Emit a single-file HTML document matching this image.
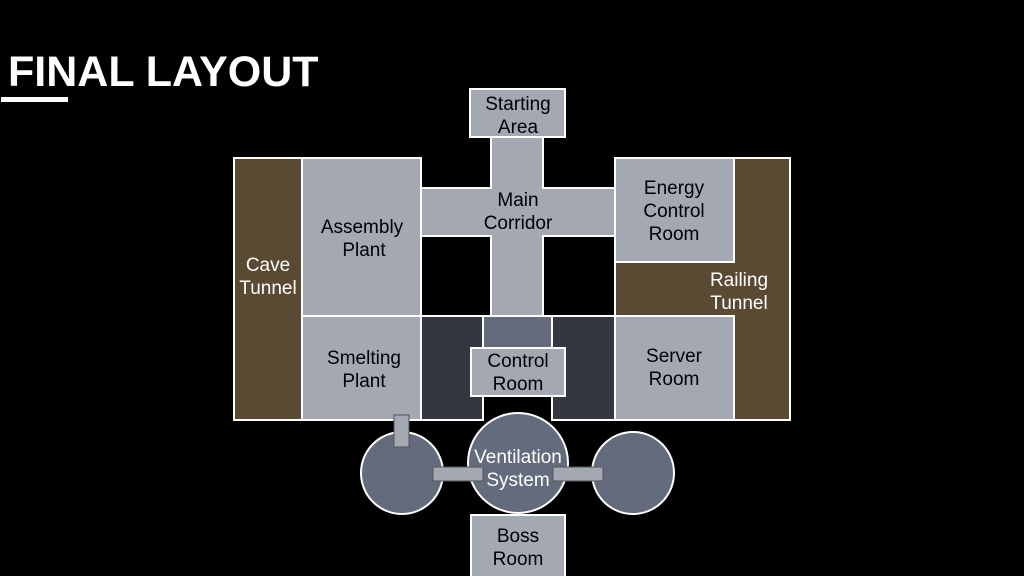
<!DOCTYPE html>
<html><head><meta charset="utf-8"><style>
html,body{margin:0;padding:0;background:#000;width:1024px;height:576px;overflow:hidden}
svg{display:block}
text{font-family:"Liberation Sans",sans-serif;font-size:19px;text-anchor:middle}
</style></head><body>
<svg width="1024" height="576" viewBox="0 0 1024 576">
<rect width="1024" height="576" fill="#000"/>
<text x="8" y="86" style="font-size:43px;font-weight:bold;text-anchor:start" fill="#fff">FINAL LAYOUT</text>
<rect x="1" y="97" width="67" height="5" fill="#fff"/>
<g stroke="#fff" stroke-width="2">
<rect x="491" y="137" width="52" height="181" fill="#a3a8b3"/>
<rect x="421" y="188" width="194" height="48" fill="#a3a8b3"/>
<rect x="492" y="182" width="50" height="60" fill="#a3a8b3" stroke="none"/>
<rect x="470" y="89" width="95" height="48" fill="#a3a8b3"/>
<rect x="234" y="158" width="68" height="262" fill="#5a4a33"/>
<rect x="302" y="158" width="119" height="158" fill="#a3a8b3"/>
<rect x="302" y="316" width="119" height="104" fill="#a3a8b3"/>
<rect x="421" y="316" width="62" height="104" fill="#343740"/>
<rect x="483" y="316" width="69" height="40" fill="#636b7c"/>
<rect x="552" y="316" width="63" height="104" fill="#343740"/>
<rect x="471" y="348" width="94" height="48" fill="#a3a8b3"/>
<path d="M734 158 H790 V420 H734 V316 H615 V262 H734 Z" fill="#5a4a33"/>
<rect x="615" y="158" width="119" height="104" fill="#a3a8b3"/>
<rect x="615" y="316" width="119" height="104" fill="#a3a8b3"/>
<circle cx="402" cy="473" r="41" fill="#636b7c"/>
<circle cx="633" cy="473" r="41" fill="#636b7c"/>
<circle cx="518" cy="463" r="50" fill="#636b7c"/>
<rect x="471" y="515" width="94" height="63" fill="#a3a8b3"/>
</g>
<g stroke="#555" stroke-width="1" fill="#a3a8b3">
<rect x="394" y="415" width="15" height="32"/>
<rect x="433" y="467" width="50" height="14"/>
<rect x="553" y="467" width="50" height="14"/>
</g>
<g fill="#000">
<text x="518" y="110">Starting</text><text x="518" y="133">Area</text>
<text x="518" y="206">Main</text><text x="518" y="229">Corridor</text>
<text x="362" y="233">Assembly</text><text x="364" y="256">Plant</text>
<text x="364" y="364">Smelting</text><text x="364" y="387">Plant</text>
<text x="518" y="367">Control</text><text x="518" y="390">Room</text>
<text x="674" y="194">Energy</text><text x="674" y="217">Control</text><text x="674" y="240">Room</text>
<text x="674" y="362">Server</text><text x="674" y="385">Room</text>
<text x="518" y="542">Boss</text><text x="518" y="565">Room</text>
</g>
<g fill="#fff">
<text x="268" y="271">Cave</text><text x="268" y="294">Tunnel</text>
<text x="739" y="286">Railing</text><text x="739" y="309">Tunnel</text>
<text x="518" y="463">Ventilation</text><text x="518" y="486">System</text>
</g>
</svg>
</body></html>
